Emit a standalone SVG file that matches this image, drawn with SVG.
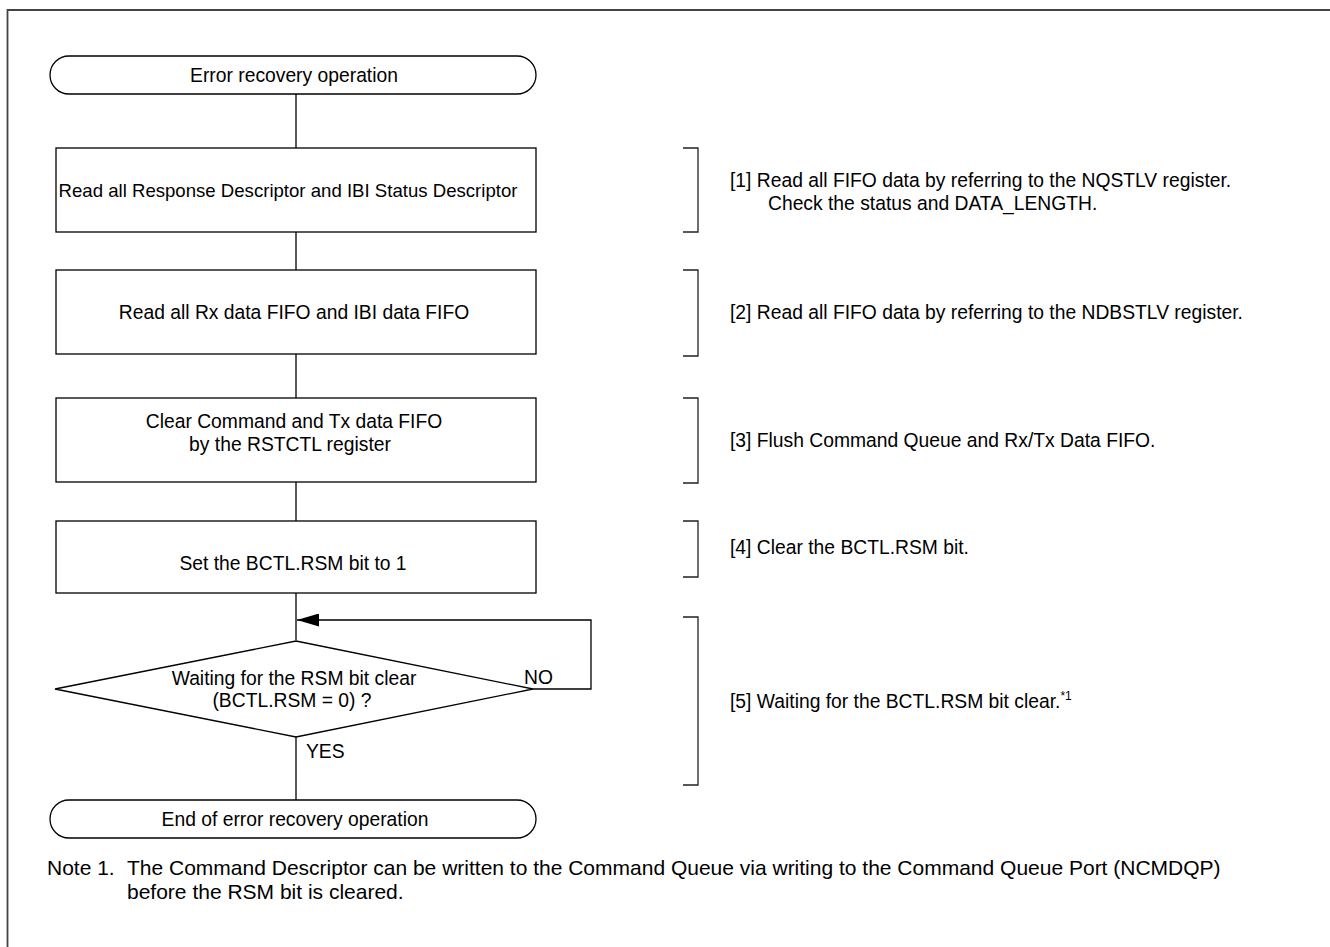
<svg xmlns="http://www.w3.org/2000/svg" width="1330" height="947" viewBox="0 0 1330 947">
<style>
.s{fill:#fff;stroke:#000;stroke-width:1.3}
.l{fill:none;stroke:#000;stroke-width:1.3}
.b{fill:none;stroke:#222;stroke-width:1.3}
text{font-family:"Liberation Sans",Arial,sans-serif;font-size:19.3px;fill:#000}
.c{text-anchor:middle}
.n{font-size:21px}
</style>
<defs>
<marker id="ah" markerWidth="22" markerHeight="13" refX="22" refY="6.5" orient="auto" markerUnits="userSpaceOnUse">
<path d="M0,0 L22,6.5 L0,13 Z" fill="#000"/>
</marker>
</defs>
<rect width="1330" height="947" fill="#fff"/>
<path d="M7.5,947 V10 H1330" fill="none" stroke="#444" stroke-width="1.8"/>
<g id="connectors">
<path class="l" d="M296,94 V148"/>
<path class="l" d="M296,232 V270"/>
<path class="l" d="M296,354 V398"/>
<path class="l" d="M296,482 V521"/>
<path class="l" d="M296,593 V640"/>
<path class="l" d="M296,736 V800"/>
<path class="l" d="M533,689 H591 V620 H297" marker-end="url(#ah)"/>
<text x="524" y="684">NO</text>
<text x="306" y="758">YES</text>
</g>
<g id="start">
<rect class="s" x="50" y="56" width="486" height="38" rx="19"/>
<text class="c" x="294" y="82">Error recovery operation</text>
</g>
<g id="step1">
<rect class="s" x="56" y="148" width="480" height="84"/>
<text class="c" x="288" y="197" style="font-size:18.6px">Read all Response Descriptor and IBI Status Descriptor</text>
</g>
<g id="step2">
<rect class="s" x="56" y="270" width="480" height="84"/>
<text class="c" x="294" y="319">Read all Rx data FIFO and IBI data FIFO</text>
</g>
<g id="step3">
<rect class="s" x="56" y="398" width="480" height="84"/>
<text class="c" x="294" y="428">Clear Command and Tx data FIFO</text>
<text class="c" x="290" y="451">by the RSTCTL register</text>
</g>
<g id="step4">
<rect class="s" x="56" y="521" width="480" height="72"/>
<text class="c" x="293" y="570">Set the BCTL.RSM bit to 1</text>
</g>
<g id="decision">
<path class="s" d="M296,641 L533,689 L296,737 L55,689 Z"/>
<text class="c" x="294" y="685">Waiting for the RSM bit clear</text>
<text class="c" x="292" y="707">(BCTL.RSM = 0) ?</text>
</g>
<g id="end">
<rect class="s" x="50" y="800" width="486" height="38" rx="19"/>
<text class="c" x="295" y="826">End of error recovery operation</text>
</g>
<g id="notes">
<path class="b" d="M683,148 H698 V232 H683"/>
<text x="730" y="187">[1] Read all FIFO data by referring to the NQSTLV register.</text>
<text x="768" y="210">Check the status and DATA_LENGTH.</text>
<path class="b" d="M683,270 H698 V356 H683"/>
<text x="730" y="319">[2] Read all FIFO data by referring to the NDBSTLV register.</text>
<path class="b" d="M683,398 H698 V483 H683"/>
<text x="730" y="447">[3] Flush Command Queue and Rx/Tx Data FIFO.</text>
<path class="b" d="M683,521 H698 V577 H683"/>
<text x="730" y="554">[4] Clear the BCTL.RSM bit.</text>
<path class="b" d="M683,617 H698 V785 H683"/>
<text x="730" y="708">[5] Waiting for the BCTL.RSM bit clear.<tspan font-size="12" dy="-8">*1</tspan></text>
<text class="n" x="47" y="875">Note 1.</text>
<text class="n" x="127" y="875">The Command Descriptor can be written to the Command Queue via writing to the Command Queue Port (NCMDQP)</text>
<text class="n" x="127" y="899">before the RSM bit is cleared.</text>
</g>
</svg>
